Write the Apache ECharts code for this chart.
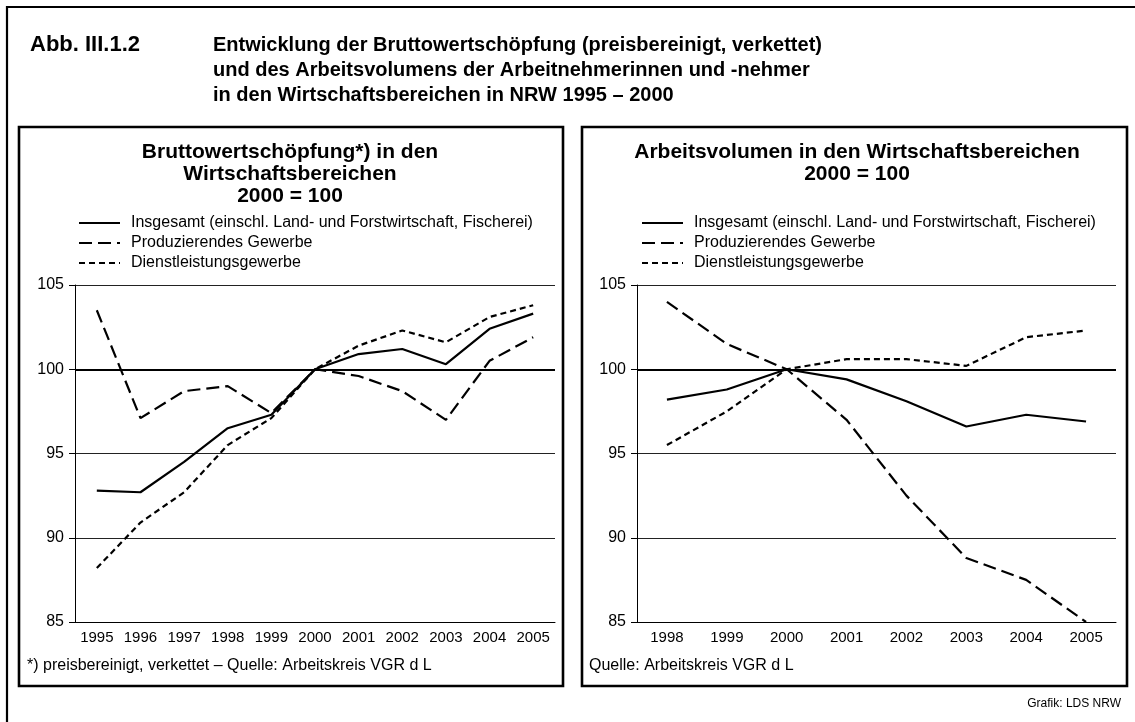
<!DOCTYPE html>
<html>
<head>
<meta charset="utf-8">
<script src="https://cdn.jsdelivr.net/npm/echarts@6/dist/echarts.min.js"></script>
<style>
html,body{margin:0;padding:0;background:#fff;}
#c{width:1135px;height:722px;}
</style>
</head>
<body>
<div id="c"></div>
<script>
// ---- data ----
const seriesNames = ['Insgesamt (einschl. Land- und Forstwirtschaft, Fischerei)', 'Produzierendes Gewerbe', 'Dienstleistungsgewerbe'];
const yearsLeft = ['1995', '1996', '1997', '1998', '1999', '2000', '2001', '2002', '2003', '2004', '2005'];
const bwsInsgesamt   = [92.8, 92.7, 94.5, 96.5, 97.3, 100, 100.9, 101.2, 100.3, 102.4, 103.3];
const bwsProduz      = [103.5, 97.1, 98.7, 99.0, 97.4, 100, 99.6, 98.7, 97.0, 100.5, 101.9];
const bwsDienst      = [88.2, 90.9, 92.7, 95.5, 97.1, 100, 101.4, 102.3, 101.6, 103.1, 103.8];
const yearsRight = ['1998', '1999', '2000', '2001', '2002', '2003', '2004', '2005'];
const avInsgesamt = [98.2, 98.8, 100, 99.4, 98.1, 96.6, 97.3, 96.9];
const avProduz    = [104.0, 101.5, 100, 97.0, 92.5, 88.8, 87.5, 85.0];
const avDienst    = [95.5, 97.5, 100, 100.6, 100.6, 100.2, 101.9, 102.3];

const FONT = '"Liberation Sans", Arial, Helvetica, sans-serif';

const styles = [
  { type: 'solid', width: 2.2 },
  { type: [13, 6], width: 2.2 },
  { type: [6, 4], width: 2.2 }
];

function makeSeries(idx, arrs) {
  return arrs.map((a, i) => ({
    name: seriesNames[i],
    type: 'line',
    xAxisIndex: idx,
    yAxisIndex: idx,
    data: a,
    symbol: 'none',
    silent: true,
    z: 5,
    lineStyle: Object.assign({ color: '#000' }, styles[i]),
    itemStyle: { color: '#000' },
    markLine: i === 0 ? {
      silent: true,
      symbol: 'none',
      label: { show: false },
      lineStyle: { color: '#000', width: 2, type: 'solid' },
      data: [{ yAxis: 100 }],
      z: 3
    } : undefined
  }));
}

function yAxis(gi) {
  return {
    type: 'value', gridIndex: gi, min: 85, max: 105, interval: 5,
    axisLine: { show: true, lineStyle: { color: '#000', width: 1 } },
    axisTick: { show: true, length: 6, lineStyle: { color: '#000' } },
    axisLabel: { color: '#000', fontSize: 16, fontFamily: FONT, margin: 11 },
    splitLine: { show: true, lineStyle: { color: '#222', width: 1 } }
  };
}
function xAxis(gi, cats) {
  return {
    type: 'category', gridIndex: gi, data: cats, boundaryGap: true,
    axisLine: { show: true, onZero: false, lineStyle: { color: '#000', width: 1 } },
    axisTick: { show: false },
    splitLine: { show: false },
    axisLabel: { color: '#000', fontSize: 15, fontFamily: FONT, margin: 8, interval: 0 }
  };
}

function legend(left) {
  return {
    left: left, top: 215, orient: 'vertical', padding: 0,
    itemWidth: 41, itemHeight: 14, itemGap: 4,
    selectedMode: false, data: seriesNames,
    itemStyle: { opacity: 0 },
    textStyle: { fontSize: 16, fontFamily: FONT, color: '#000', padding: [0, 0, 0, 6] }
  };
}

function txt(x, y, text, size, bold, align) {
  return {
    type: 'text', x: x, y: y, silent: true,
    style: {
      text: text, fill: '#000',
      font: (bold ? 'bold ' : '') + size + 'px ' + FONT,
      textAlign: align || 'left', textVerticalAlign: 'middle'
    }
  };
}

const chart = echarts.init(document.getElementById('c'), null, { renderer: 'canvas' });
chart.setOption({
  backgroundColor: '#fff',
  animation: false,
  grid: [
    { left: 75, right: 1135 - 555, top: 285, bottom: 722 - 622 },
    { left: 637, right: 1135 - 1116, top: 285, bottom: 722 - 622 }
  ],
  xAxis: [xAxis(0, yearsLeft), xAxis(1, yearsRight)],
  yAxis: [yAxis(0), yAxis(1)],
  legend: [legend(78), legend(641)],
  series: [].concat(
    makeSeries(0, [bwsInsgesamt, bwsProduz, bwsDienst]),
    makeSeries(1, [avInsgesamt, avProduz, avDienst])
  ),
  graphic: [
    // outer frame (top and left edges)
    { type: 'polyline', silent: true, shape: { points: [[7, 722], [7, 7], [1135, 7]] },
      style: { stroke: '#000', lineWidth: 2.2, fill: null } },
    // panel frames
    { type: 'rect', silent: true, shape: { x: 19, y: 127, width: 544, height: 559 },
      style: { stroke: '#000', lineWidth: 2.6, fill: null } },
    { type: 'rect', silent: true, shape: { x: 582, y: 127, width: 545, height: 559 },
      style: { stroke: '#000', lineWidth: 2.6, fill: null } },
    // main heading
    txt(30, 45, 'Abb. III.1.2', 22, true),
    txt(213, 45, 'Entwicklung der Bruttowertschöpfung (preisbereinigt, verkettet)', 20, true),
    txt(213, 70, 'und des Arbeitsvolumens der Arbeitnehmerinnen und -nehmer', 20, true),
    txt(213, 95, 'in den Wirtschaftsbereichen in NRW 1995 – 2000', 20, true),
    // left panel title
    txt(290, 152, 'Bruttowertschöpfung*) in den', 21, true, 'center'),
    txt(290, 174, 'Wirtschaftsbereichen', 21, true, 'center'),
    txt(290, 196, '2000 = 100', 21, true, 'center'),
    // right panel title
    txt(857, 152, 'Arbeitsvolumen in den Wirtschaftsbereichen', 21, true, 'center'),
    txt(857, 174, '2000 = 100', 21, true, 'center'),
    // footnotes
    txt(27, 666, '*) preisbereinigt, verkettet – Quelle: Arbeitskreis VGR d L', 16, false),
    txt(589, 666, 'Quelle: Arbeitskreis VGR d L', 16, false),
    txt(1121, 704, 'Grafik: LDS NRW', 12, false, 'right')
  ]
});
</script>
</body>
</html>
